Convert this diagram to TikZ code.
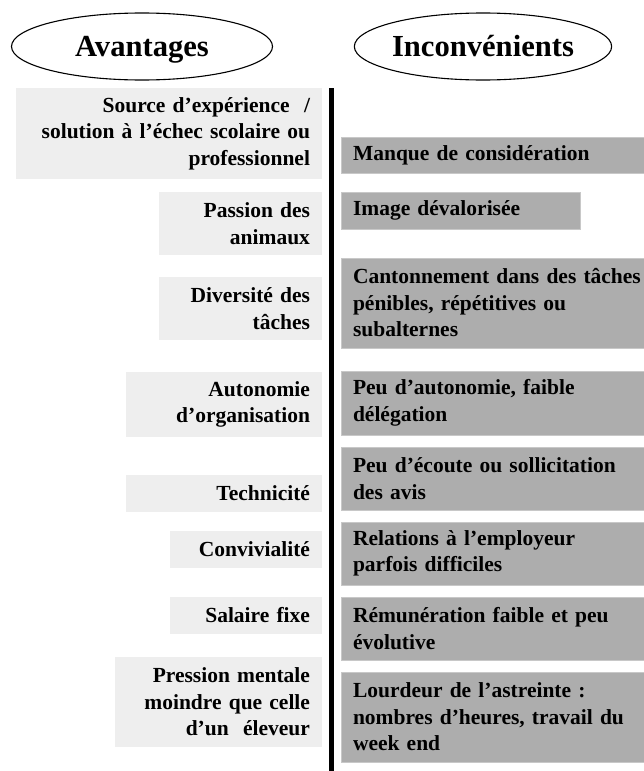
\documentclass[tikz,border=0pt]{standalone}
\usepackage{fontspec}
\setmainfont{Liberation Serif}
\usetikzlibrary{shapes.geometric}
\definecolor{progray}{RGB}{238,238,238}
\definecolor{congray}{RGB}{173,173,173}
\definecolor{conedge}{RGB}{200,200,200}
\tikzset{
  head/.style   ={ellipse, draw=black, line width=1.1pt, minimum height=67pt, inner sep=0pt,
                  text height=20pt, text depth=0pt, font=\fontsize{30.6}{32}\selectfont\bfseries},
  pro/.style 2 args={rectangle, fill=progray, anchor=north east, align=right, outer sep=0pt,
                  inner xsep=12pt, inner ysep=0pt, text width=#1, minimum height=#2,
                  font=\fontsize{21.5}{26.5}\selectfont\bfseries},
  con/.style 2 args={rectangle, fill=congray, draw=conedge, line width=0.8pt, anchor=north west,
                  align=left, outer sep=0pt, inner xsep=12pt, inner ysep=0pt, text width=#1,
                  minimum height=#2, font=\fontsize{21.5}{26.5}\selectfont\bfseries},
  divider/.style={draw=black, line width=5pt},
}
\begin{document}
\begin{tikzpicture}[x=1pt, y=-1pt]
\useasboundingbox (0,0) rectangle (644,771);
% titres
\node[head, minimum width=261pt] (avantages) at (142,46.5) {Avantages};
\node[head, minimum width=228pt] (inconv) at (483,46.5) {Inconvénients};
% avantages
\node[pro={282pt}{91pt}] (pro1) at (322,88) {Source d’expérience\ \ /\\ solution à l’échec scolaire ou\\ professionnel};
\node[pro={139pt}{63pt}] (pro2) at (322,192) {Passion des\\ animaux};
\node[pro={139pt}{63pt}] (pro3) at (322,277) {Diversité des\\ tâches};
\node[pro={172pt}{65pt}] (pro4) at (322,372) {Autonomie\\ d’organisation};
\node[pro={172pt}{37pt}] (pro5) at (322,475) {Technicité};
\node[pro={128pt}{37pt}] (pro6) at (322,531) {Convivialité};
\node[pro={128pt}{37pt}] (pro7) at (322,597) {Salaire fixe};
\node[pro={183pt}{90pt}] (pro8) at (322,657) {Pression mentale\\ moindre que celle\\ d’un\ \ éleveur};
% inconvenients
\node[con={279pt}{36pt}] (con1) at (341,137) {Manque de considération};
\node[con={215pt}{37pt}] (con2) at (341,192) {Image dévalorisée};
\node[con={279pt}{90pt}] (con3) at (341,258) {\mbox{Cantonnement dans des tâches}\\ pénibles, répétitives ou\\ subalternes};
\node[con={279pt}{64pt}] (con4) at (341,371) {Peu d’autonomie, faible\\ délégation};
\node[con={279pt}{63pt}] (con5) at (341,447) {Peu d’écoute ou sollicitation\\ des avis};
\node[con={279pt}{63pt}] (con6) at (341,522) {Relations à l’employeur\\ parfois difficiles};
\node[con={279pt}{63pt}] (con7) at (341,597) {Rémunération faible et peu\\ évolutive};
\node[con={279pt}{90pt}] (con8) at (341,672) {Lourdeur de l’astreinte :\\ nombres d’heures, travail du\\ week end};
% separation
\draw[divider] (331,88) -- (331,771);
\end{tikzpicture}
\end{document}
